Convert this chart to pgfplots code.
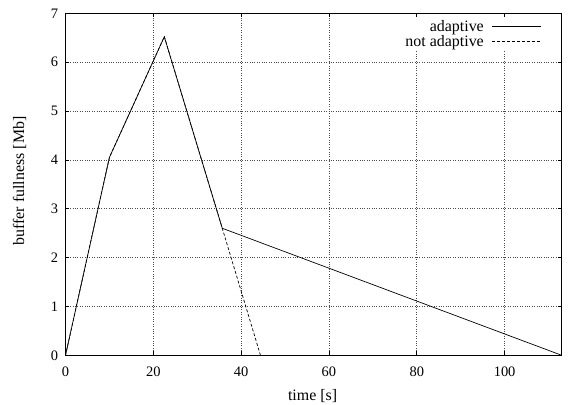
\documentclass[border=0pt]{standalone}
\usepackage{fontspec}
\setmainfont{Liberation Serif}
\usepackage{pgfplots}
\pgfplotsset{compat=1.18}
\newcommand{\ftxt}{\fontsize{16}{18}\selectfont}
\newcommand{\ftick}{\fontsize{14.5}{17}\selectfont}
\begin{document}
\begin{tikzpicture}
\begin{axis}[
  scale only axis, width=496.2bp, height=342bp,
  xmin=0, xmax=113, ymin=0, ymax=7,
  xtick={0,20,40,60,80,100}, ytick={0,1,2,3,4,5,6,7},
  grid=major, grid style={dotted, black!70, line width=0.6pt},
  tick align=inside, major tick length=4bp,
  axis line style={line width=1pt},
  every tick/.style={black, line width=0.7pt},
  tick label style={font=\ftick},
  label style={font=\ftxt},
  /pgf/number format/assume math mode=true,
  xticklabel shift=8bp, yticklabel shift=4bp,
  xlabel={time [s]}, ylabel={buffer fullness [Mb]},
  xlabel style={at={(axis description cs:0.5,0)}, anchor=center, yshift=-41bp, xshift=-1bp},
  ylabel style={at={(axis description cs:-0.0927,0.51)}, anchor=center},
  legend cell align=right, legend plot pos=right,
  legend style={draw=none, fill=white, at={(1,1)}, anchor=north east, xshift=-19bp, yshift=-4bp,
    font=\ftxt, row sep=-2bp, inner sep=1bp},
  legend image code/.code={\path (0bp,0bp); \draw[#1] (6bp,0bp) -- (55bp,0bp);},
]
\addplot[black, line width=0.7pt] coordinates {(0,0) (10,4.05) (22.5,6.52) (35.7,2.6) (113,0)};
\addlegendentry{adaptive}
\addplot[black, line width=0.7pt, dash pattern=on 3bp off 2bp] coordinates {(0,0) (10,4.05) (22.5,6.52) (35.7,2.6) (44.4,0)};
\addlegendentry{not adaptive}
\end{axis}
\pgfresetboundingbox
\path (current axis.south west) ++(-65.5bp,-49.7bp) rectangle ([xshift=6.3bp,yshift=13.3bp]current axis.north east);
\end{tikzpicture}
\end{document}
